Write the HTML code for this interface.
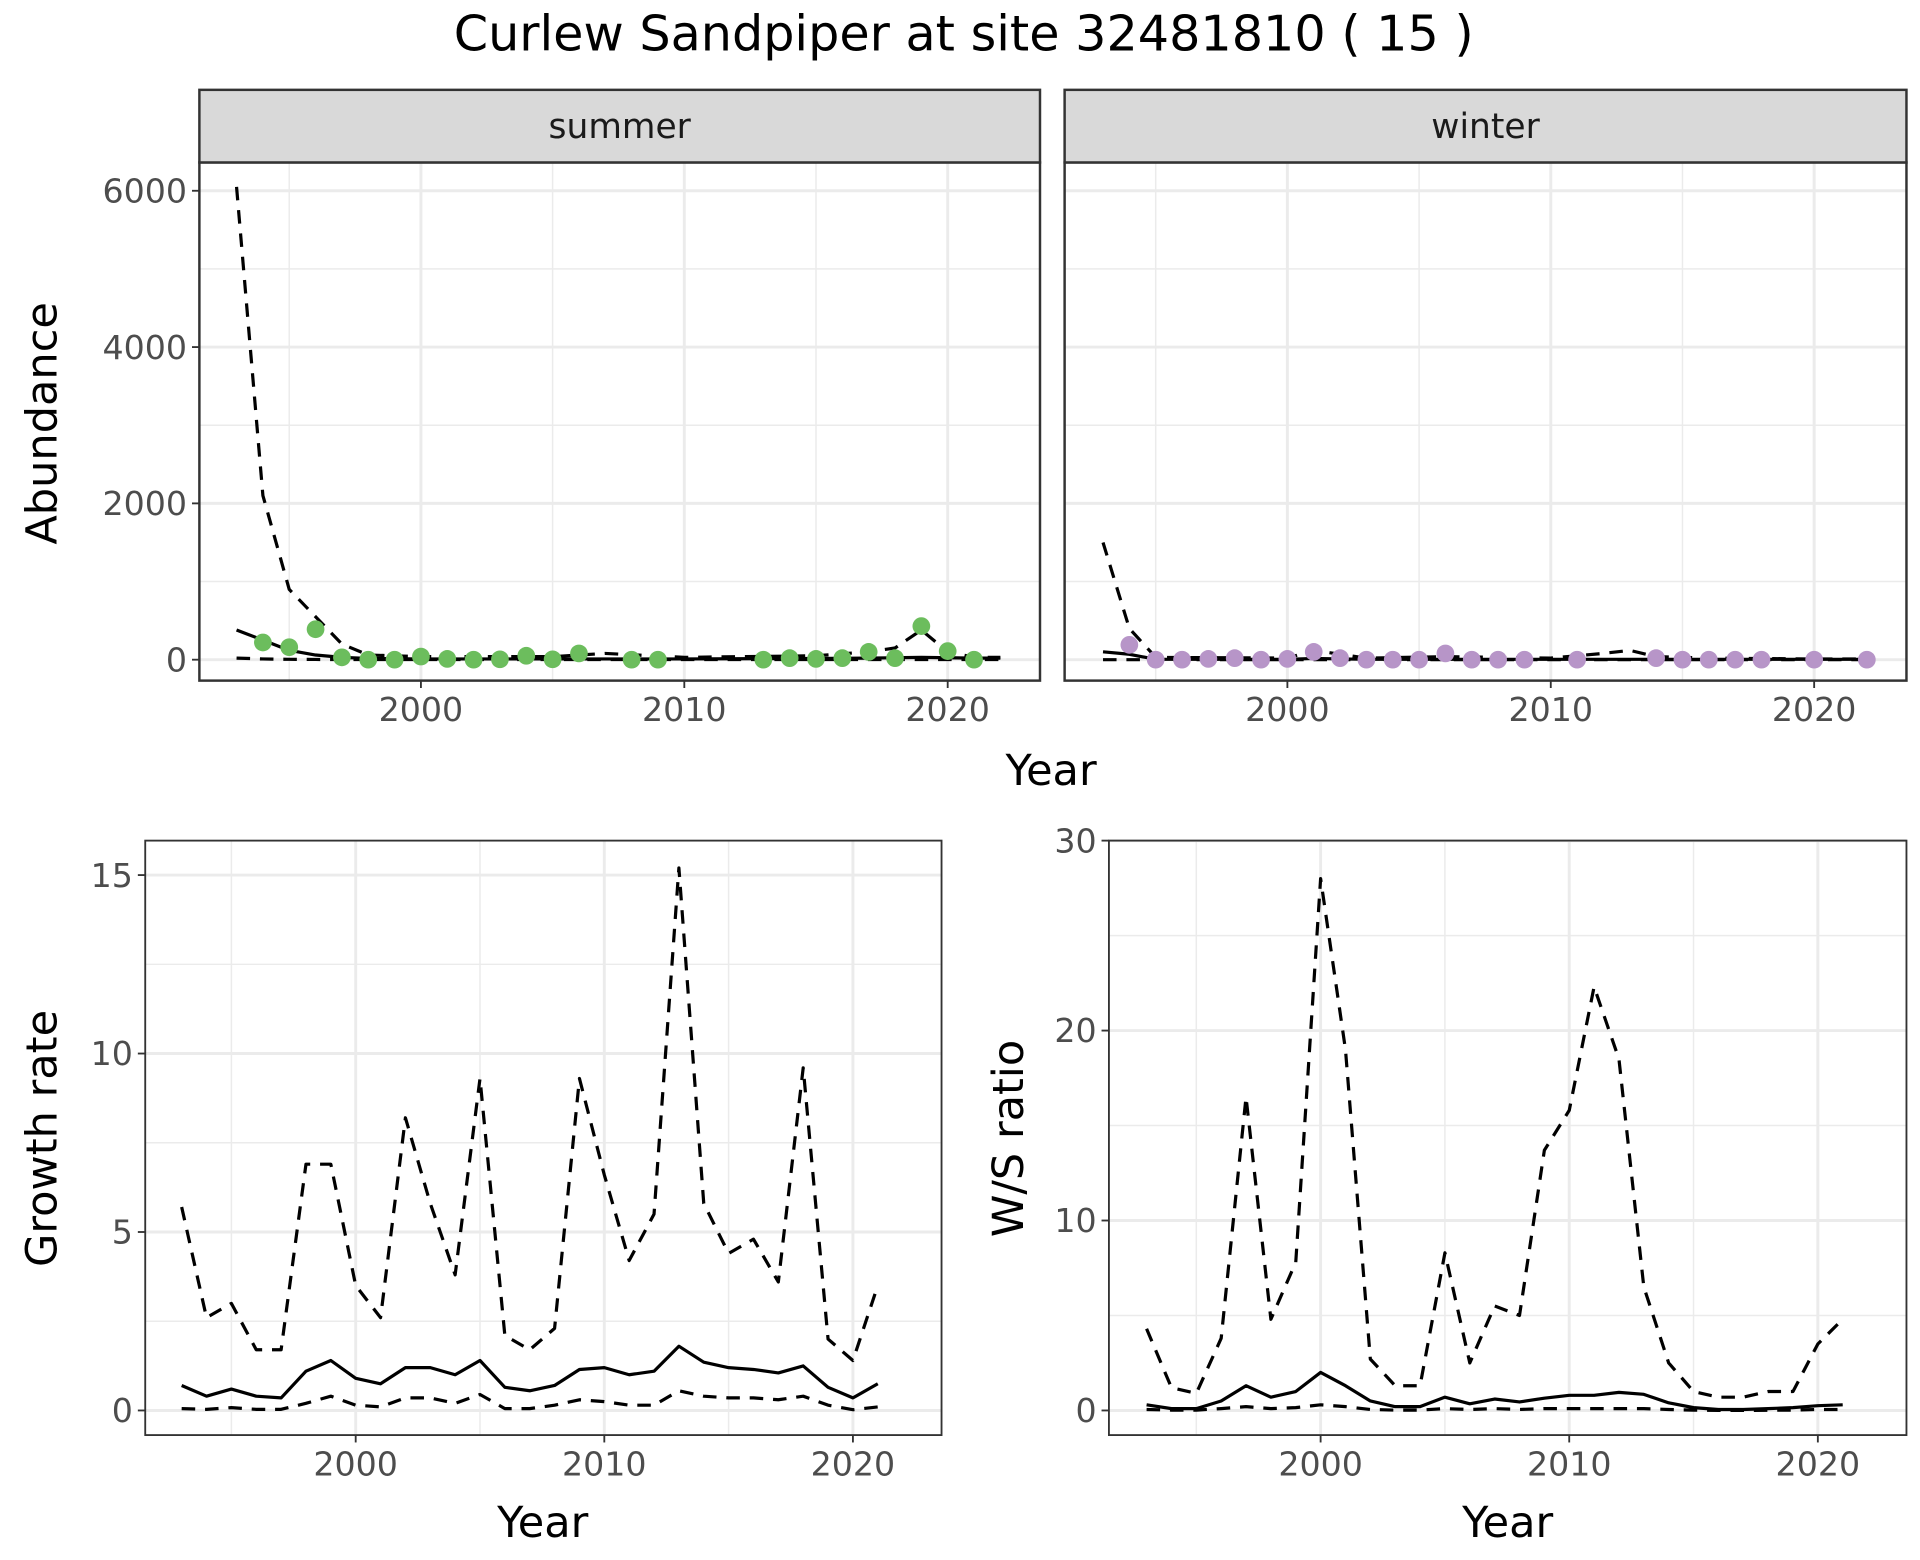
<!DOCTYPE html>
<html><head><meta charset="utf-8"><style>
html,body{margin:0;padding:0;background:#fff}
svg{display:block}
text{font-family:"DejaVu Sans","Liberation Sans",sans-serif}
</style></head><body>
<svg id="chart" width="1920" height="1560" viewBox="0 0 1560 1267.5" xmlns="http://www.w3.org/2000/svg">
<rect width="1560" height="1267.5" fill="#fff"/>
<text x="783" y="41" font-size="40" text-anchor="middle" fill="#000">Curlew Sandpiper at site 32481810 ( 15 )</text>
<g id="g"></g>
</svg>
<script>
const sumYears=[1994,1995,1996,1997,1998,1999,2000,2001,2002,2003,2004,2005,2006,2008,2009,2013,2014,2015,2016,2017,2018,2019,2020,2021];
const sumCounts=[220,160,390,30,0,0,40,10,0,5,50,5,80,0,0,0,20,10,20,100,20,430,110,0];
const sumFitYears=[1993,1994,1995,1996,1997,1998,2000,2005,2007,2010,2015,2017,2018,2019,2020,2021,2022];
const sumFit=[380,250,120,60,30,15,10,10,10,10,15,20,25,30,25,20,20];
const sumUpper=[6050,2100,900,550,200,60,40,40,80,30,50,100,150,380,100,30,30];
const sumLower=[20,10,5,3,2,2,2,2,2,2,2,2,2,2,2,2,2];
const winYears=[1994,1995,1996,1997,1998,1999,2000,2001,2002,2003,2004,2005,2006,2007,2008,2009,2011,2014,2015,2016,2017,2018,2020,2022];
const winCounts=[190,0,0,10,20,0,10,100,20,0,0,0,80,0,0,0,0,20,0,0,0,0,0,0];
const winFitYears=[1993,1994,1995,2000,2001,2003,2006,2010,2012,2013,2014,2016,2020,2022];
const winFit=[100,70,5,5,15,5,5,5,5,5,5,5,5,5];
const winUpper=[1500,400,30,20,120,20,40,20,80,120,40,20,10,10];
const winLower=[0,0,0,0,0,0,0,0,0,0,0,0,0,0];
const grYears=[1993,1994,1995,1996,1997,1998,1999,2000,2001,2002,2003,2004,2005,2006,2007,2008,2009,2010,2011,2012,2013,2014,2015,2016,2017,2018,2019,2020,2021];
const grUpper=[5.7,2.6,3.0,1.7,1.7,6.9,6.9,3.5,2.6,8.2,5.8,3.8,9.3,2.1,1.7,2.3,9.3,6.6,4.2,5.5,15.2,5.8,4.4,4.8,3.6,9.6,2.0,1.4,3.5];
const grMid=[0.7,0.4,0.6,0.4,0.35,1.1,1.4,0.9,0.75,1.2,1.2,1.0,1.4,0.65,0.55,0.7,1.15,1.2,1.0,1.1,1.8,1.35,1.2,1.15,1.05,1.25,0.65,0.35,0.75];
const grLower=[0.05,0.03,0.08,0.03,0.03,0.2,0.4,0.15,0.1,0.35,0.35,0.2,0.45,0.05,0.05,0.15,0.3,0.25,0.15,0.15,0.55,0.4,0.35,0.35,0.3,0.4,0.15,0.02,0.1];
const wsUpper=[4.3,1.2,0.9,3.8,16.5,4.8,7.8,28,19,2.7,1.3,1.3,8.3,2.5,5.5,5,13.7,15.8,22.3,18.5,6.5,2.5,1,0.7,0.7,1,1,3.5,4.8];
const wsMid=[0.3,0.1,0.1,0.5,1.3,0.7,1.0,2.0,1.3,0.5,0.2,0.2,0.7,0.35,0.6,0.45,0.65,0.8,0.8,0.95,0.85,0.4,0.15,0.05,0.05,0.1,0.15,0.25,0.3];
const wsLower=[0.05,0.02,0.02,0.1,0.2,0.1,0.15,0.3,0.2,0.05,0.02,0.02,0.1,0.05,0.1,0.05,0.1,0.1,0.1,0.1,0.1,0.05,0.02,0,0,0.01,0.02,0.05,0.05];
const xTicks=[2000,2010,2020];
const abTicks=[0,2000,4000,6000];
const grTicks=[0,5,10,15];
const wsTicks=[0,10,20,30];

const NS="http://www.w3.org/2000/svg";
const G=document.getElementById('g');
function mk(tag,attrs,parent){const e=document.createElementNS(NS,tag);for(const k in attrs)e.setAttribute(k,attrs[k]);(parent||G).appendChild(e);return e;}
function txt(s,attrs){const e=mk('text',attrs);e.textContent=s;return e;}

function panel(p){
  const sx=v=>p.x0+(v-p.xa)*(p.x1-p.x0)/(p.xb-p.xa);
  const sy=v=>p.y0+(v-p.ya)*(p.y1-p.y0)/(p.yb-p.ya);
  const grp=mk('g',{});
  
  
  const xs=p.xTicks, ys=p.yTicks;
  for(let i=0;i<xs.length-1;i++){const m=(xs[i]+xs[i+1])/2;mk('line',{x1:sx(m),x2:sx(m),y1:p.top,y2:p.bot,stroke:'#ebebeb','stroke-width':1.2},grp);}
  const mx0=xs[0]-(xs[1]-xs[0])/2; if(sx(mx0)>p.left) mk('line',{x1:sx(mx0),x2:sx(mx0),y1:p.top,y2:p.bot,stroke:'#ebebeb','stroke-width':1.2},grp);
  for(let i=0;i<ys.length-1;i++){const m=(ys[i]+ys[i+1])/2;mk('line',{x1:p.left,x2:p.right,y1:sy(m),y2:sy(m),stroke:'#ebebeb','stroke-width':1.2},grp);}
  for(const v of xs) mk('line',{x1:sx(v),x2:sx(v),y1:p.top,y2:p.bot,stroke:'#ebebeb','stroke-width':2.4},grp);
  for(const v of ys) mk('line',{x1:p.left,x2:p.right,y1:sy(v),y2:sy(v),stroke:'#ebebeb','stroke-width':2.4},grp);
  for(const s of p.series){
    const d=s.xs.map((x,i)=>(i?'L':'M')+sx(x).toFixed(1)+','+sy(s.ys[i]).toFixed(1)).join('');
    const path=mk('path',{d:d,fill:'none',stroke:'#000','stroke-width':2.6,'stroke-dasharray':s.dash?'11,8':'none','stroke-linejoin':'round'},grp);
    
    
  }
  if(p.points){
    p.points.xs.forEach((x,i)=>{
      const c=mk('circle',{cx:sx(x),cy:sy(p.points.ys[i]),r:7.2,fill:p.points.color},grp);
      
      
    });
  }
  mk('rect',{x:p.left,y:p.top,width:p.right-p.left,height:p.bot-p.top,fill:'none',stroke:'#333','stroke-width':p.strip?2:1.5},grp);
  if(p.strip){
    mk('rect',{x:p.left,y:p.top-59,width:p.right-p.left,height:59,fill:'#d9d9d9',stroke:'#333','stroke-width':2},grp);
    const t=txt(p.strip,{x:(p.left+p.right)/2,y:p.top-20,'font-size':28,'text-anchor':'middle',fill:'#1a1a1a'});
    
    
  }
  for(const v of xs){
    mk('line',{x1:sx(v),x2:sx(v),y1:p.bot,y2:p.bot+6,stroke:'#333','stroke-width':1.5},grp);
    const t=txt(String(v),{x:sx(v),y:p.bot+33,'font-size':27,'text-anchor':'middle',fill:'#4d4d4d'});
    
    
  }
  if(p.yLabels){
    for(const v of ys){
      mk('line',{x1:p.left-6,x2:p.left,y1:sy(v),y2:sy(v),stroke:'#333','stroke-width':1.5},grp);
      const t=txt(String(v),{x:p.left-10,y:sy(v)+9.5,'font-size':27,'text-anchor':'end',fill:'#4d4d4d'});
      
      
    }
  }
}

panel({name:'summer-panel',strip:'summer',left:162,right:845,top:132,bot:553,x0:342,x1:556,xa:2000,xb:2010,y0:536,y1:155,ya:0,yb:6000,
  xTicks:xTicks,yTicks:abTicks,yLabels:true,
  series:[{name:'summer-upper-ci',xs:sumFitYears,ys:sumUpper,dash:true},{name:'summer-lower-ci',xs:sumFitYears,ys:sumLower,dash:true},{name:'summer-fit',xs:sumFitYears,ys:sumFit,dash:false}],
  points:{xs:sumYears,ys:sumCounts,color:'#6cbd5d'}});
panel({name:'winter-panel',strip:'winter',left:865,right:1549,top:132,bot:553,x0:1046,x1:1260,xa:2000,xb:2010,y0:536,y1:155,ya:0,yb:6000,
  xTicks:xTicks,yTicks:abTicks,yLabels:false,
  series:[{name:'winter-upper-ci',xs:winFitYears,ys:winUpper,dash:true},{name:'winter-lower-ci',xs:winFitYears,ys:winLower,dash:true},{name:'winter-fit',xs:winFitYears,ys:winFit,dash:false}],
  points:{xs:winYears,ys:winCounts,color:'#b795c8'}});
panel({name:'growth-panel',left:118,right:765,top:683,bot:1166,x0:289,x1:491,xa:2000,xb:2010,y0:1146,y1:711,ya:0,yb:15,
  xTicks:xTicks,yTicks:grTicks,yLabels:true,
  series:[{name:'growth-upper',xs:grYears,ys:grUpper,dash:true},{name:'growth-lower',xs:grYears,ys:grLower,dash:true},{name:'growth-mid',xs:grYears,ys:grMid,dash:false}]});
panel({name:'ratio-panel',left:901,right:1549,top:683,bot:1166,x0:1073,x1:1275,xa:2000,xb:2010,y0:1146,y1:683,ya:0,yb:30,
  xTicks:xTicks,yTicks:wsTicks,yLabels:true,
  series:[{name:'ratio-upper',xs:grYears,ys:wsUpper,dash:true},{name:'ratio-lower',xs:grYears,ys:wsLower,dash:true},{name:'ratio-mid',xs:grYears,ys:wsMid,dash:false}]});

function label(s,x,y,rot,name){
  const t=txt(s,{x:x,y:y,'font-size':35,'text-anchor':'middle',fill:'#000',transform:rot?`rotate(-90 ${x} ${y})`:''});
  
  
}
label('Year',854,638,false,'top-x-axis-title');
label('Abundance',46,344,true,'abundance-y-axis-title');
label('Year',441,1249,false,'growth-x-axis-title');
label('Growth rate',46,925,true,'growth-y-axis-title');
label('Year',1225,1249,false,'ratio-x-axis-title');
label('W/S ratio',831,925,true,'ratio-y-axis-title');
</script>
</body></html>
